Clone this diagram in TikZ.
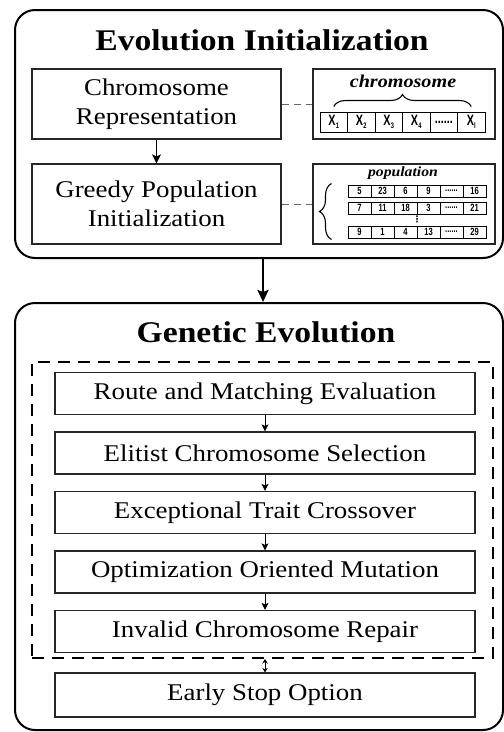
\documentclass[tikz,border=0pt]{standalone}
\usepackage{fontspec}
\setmainfont{Liberation Serif}[FakeStretch=1.12]
\newfontfamily\cellfont{Liberation Sans}[FakeStretch=0.72]
\newfontfamily\symbolfont{DejaVu Sans}
\usetikzlibrary{positioning,arrows.meta,decorations.pathreplacing}

\newcommand{\gene}[1]{X\kern0.2pt\raisebox{-2.5pt}{\fontsize{8}{8}\selectfont #1}}
\newcommand{\gapdots}{......}

\tikzset{
  panel/.style={draw, line width=2pt, rounded corners=20pt, minimum width=488pt, inner sep=0pt},
  heading/.style={font=\bfseries\fontsize{30}{34}\selectfont},
  stagebox/.style={draw=black!85, line width=1.2pt, align=center, inner sep=0pt,
    font=\fontsize{24}{29}\selectfont},
  stepbox/.style={stagebox, minimum width=420pt, minimum height=42pt},
  samplebox/.style={draw=black!85, line width=1.2pt, minimum width=182pt, inner sep=0pt},
  genecell/.style={draw, line width=1pt, minimum width=27.5pt, minimum height=20pt, inner sep=0pt,
    font=\cellfont\bfseries\fontsize{15}{15}\selectfont},
  popcell/.style={draw, line width=1pt, minimum width=23pt, minimum height=12pt, inner sep=0pt,
    font=\cellfont\bfseries\fontsize{10.5}{10.5}\selectfont},
  link/.style={draw=black!60, line width=1pt, dash pattern=on 7pt off 5pt},
  flow/.style={line width=1pt, -{Stealth[length=9pt,width=9pt,inset=2pt]}},
  stepflow/.style={line width=1pt, -{Stealth[length=7pt,width=7pt,inset=1.5pt]}},
  bigbrace/.style={decorate, decoration={brace, amplitude=12pt}, line width=1.1pt}
}

\begin{document}
\begin{tikzpicture}[x=1pt, y=-1pt]
  \useasboundingbox (0,0) rectangle (504,732);

  % evolution initialization
  \node[panel, minimum height=248pt] (initpanel) at (259,134) {};
  \node[heading] (inittitle) at (262,40) {Evolution Initialization};
  \node[stagebox, minimum width=249pt, minimum height=70pt] (rep) at (156.5,104)
    {Chromosome\\Representation};
  \node[stagebox, minimum width=249pt, minimum height=80pt] (greedy) at (156.5,204)
    {Greedy Population\\Initialization};
  \node[samplebox, minimum height=70pt] (chrombox) at (404,104) {};
  \node[samplebox, minimum height=80pt] (popbox) at (404,204) {};

  \foreach \lbl [count=\i] in {\gene{1},\gene{2},\gene{3},\gene{4},\gapdots,\gene{l}}
    \node[genecell] (c\i) at ({306.25+27.5*\i},122) {\lbl};
  \draw[bigbrace] ([yshift=5pt]c1.north) -- ([yshift=5pt]c6.north);
  \node[font=\bfseries\itshape\fontsize{18}{20}\selectfont] (chromlabel) at (403,81) {chromosome};

  \foreach \vals/\y [count=\r] in {{5,23,6,9,\gapdots,16}/191,{7,11,18,3,\gapdots,21}/208,{9,1,4,13,\gapdots,29}/232}
    \foreach \v [count=\i] in \vals
      \node[popcell] (p\r-\i) at ({336.5+23*\i},\y) {\v};
  \node[font=\symbolfont\bfseries\fontsize{9}{9}\selectfont, inner sep=0pt] (popdots) at (417,219.5) {⋮};
  \draw[bigbrace] ([xshift=-16pt,yshift=-1pt]p3-1.south west) -- ([xshift=-16pt,yshift=1pt]p1-1.north west);
  \node[font=\bfseries\itshape\fontsize{14}{16}\selectfont] (poplabel) at (403,173) {population};

  \draw[link] (rep.east) -- (chrombox.west);
  \draw[link] (greedy.east) -- (popbox.west);
  \draw[flow] (rep) -- (greedy);

  % genetic evolution
  \node[panel, minimum height=427pt] (gapanel) at (259,516.5) {};
  \node[heading] (gatitle) at (266,332) {Genetic Evolution};
  \node[draw, line width=2pt, dash pattern=on 12pt off 8pt, minimum width=461pt,
    minimum height=296pt] (loop) at (262.5,510) {};
  \node[stepbox] (eval) at (265,393.5) {Route and Matching Evaluation};
  \node[stepbox, below=16.3pt of eval] (select) {Elitist Chromosome Selection};
  \node[stepbox, below=16.3pt of select] (cross) {Exceptional Trait Crossover};
  \node[stepbox, below=16.3pt of cross] (mutate) {Optimization Oriented Mutation};
  \node[stepbox, below=16.3pt of mutate] (repair) {Invalid Chromosome Repair};
  \node[stepbox, minimum height=44pt] (stop) at (265,695) {Early Stop Option};

  \draw[stepflow] (eval) -- (select);
  \draw[stepflow] (select) -- (cross);
  \draw[stepflow] (cross) -- (mutate);
  \draw[stepflow] (mutate) -- (repair);
  \draw[line width=1pt, {Stealth[length=4.5pt,width=5.5pt]}-{Stealth[length=4.5pt,width=5.5pt]}]
    ([xshift=2.5pt]loop.south) -- (stop.north);

  \draw[line width=2.5pt, -{Stealth[length=12pt,width=11pt,inset=2pt]}]
    ([xshift=4pt]initpanel.south) -- ([xshift=4pt]gapanel.north);
\end{tikzpicture}
\end{document}
